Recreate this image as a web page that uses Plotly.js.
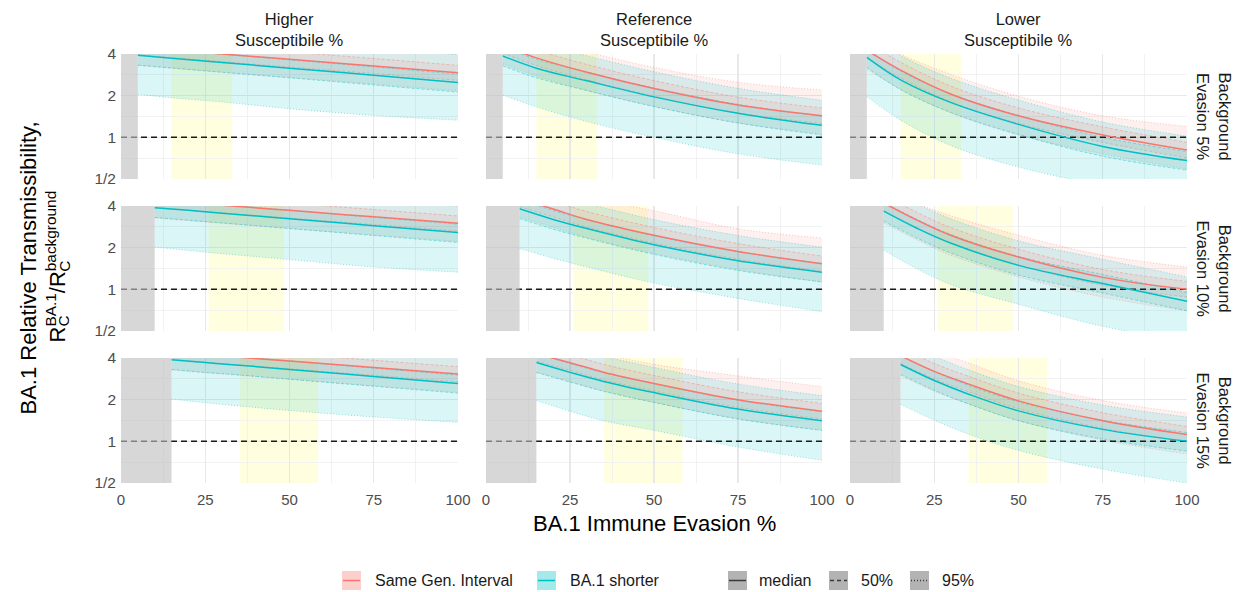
<!DOCTYPE html>
<html><head><meta charset="utf-8">
<script src="https://cdn.plot.ly/plotly-3.0.1.min.js"></script>
<style>html,body{margin:0;padding:0;background:#fff}#chart{width:1241px;height:592px}</style>
</head><body><div id="chart"></div>
<script>
// ---------- categories / labels ----------
const colLabels = ['Higher<br>Susceptibile %', 'Reference<br>Susceptibile %', 'Lower<br>Susceptibile %'];
const rowLabels = ['Background<br>Evasion 5%', 'Background<br>Evasion 10%', 'Background<br>Evasion 15%'];
const seriesLabels = ['Same Gen. Interval', 'BA.1 shorter'];
const lineTypeLabels = ['median', '50%', '95%'];
const bgEvasion = [5, 10, 15];
const xTickVals = [0, 25, 50, 75, 100];
const yTickVals = [0.5, 1, 2, 4];
const yTickText = ['1/2', '1', '2', '4'];
const xTitle = 'BA.1 Immune Evasion %';
const yTitle1 = 'BA.1 Relative Transmissibility,';
// second title line: R with stacked sub "C" and sup, built from overlaid text pieces
const HID = "<span style='color:rgba(0,0,0,0)'>";
const yTitle2Sup = "R<sup>BA.1</sup>/R<sup>background</sup><sub>" + HID + "C</span></sub>";
const yTitle2Sub1 = HID + "R</span><sub>C</sub><sup>" + HID + "B</span></sup>";
const yTitle2Sub2 = HID + "R</span><sup>" + HID + "BA.1</span></sup>" + HID + "/R</span><sub>C</sub>";
// yellow band (per background evasion row)
const bandLo = [15, 26, 35.2];
const bandHi = [33, 48.3, 58.5];

// ---------- x grids per row ----------
const x_bg5 = [5, 15, 30, 50, 75, 100];
const x_bg10 = [10, 20, 30, 50, 75, 100];
const x_bg15 = [15, 25, 35, 50, 75, 100];

// ---------- Higher susceptible, bg 5% ----------
const hi5_short_med  = [3.91, 3.73, 3.47, 3.16, 2.81, 2.49];
const hi5_short_lo50 = [3.32, 3.17, 2.95, 2.69, 2.39, 2.12];
const hi5_short_hi50 = [4.50, 4.29, 3.99, 3.63, 3.23, 2.86];
const hi5_short_lo95 = [2.05, 1.93, 1.80, 1.61, 1.44, 1.33];
const hi5_short_hi95 = [6.20, 5.90, 5.50, 5.00, 4.45, 3.96];
const hi5_same_med   = [4.47, 4.27, 4.00, 3.66, 3.28, 2.93];
const hi5_same_lo50  = [3.93, 3.76, 3.52, 3.22, 2.89, 2.58];
const hi5_same_hi50  = [5.05, 4.83, 4.52, 4.14, 3.71, 3.31];
const hi5_same_lo95  = [3.31, 3.16, 2.96, 2.71, 2.43, 2.17];
const hi5_same_hi95  = [6.08, 5.81, 5.44, 4.98, 4.46, 3.98];
// ---------- Reference, bg 5% ----------
const ref5_short_med  = [3.87, 3.16, 2.56, 1.96, 1.49, 1.22];
const ref5_short_lo50 = [3.29, 2.69, 2.18, 1.67, 1.27, 1.04];
const ref5_short_hi50 = [4.49, 3.67, 2.97, 2.27, 1.73, 1.42];
const ref5_short_lo95 = [2.02, 1.66, 1.30, 1.00, 0.76, 0.63];
const ref5_short_hi95 = [5.88, 4.80, 3.89, 2.98, 2.26, 1.85];
const ref5_same_med   = [4.60, 3.75, 2.95, 2.25, 1.71, 1.43];
const ref5_same_lo50  = [4.05, 3.30, 2.60, 1.98, 1.50, 1.26];
const ref5_same_hi50  = [5.24, 4.28, 3.36, 2.57, 1.95, 1.63];
const ref5_same_lo95  = [3.40, 2.78, 2.18, 1.67, 1.27, 1.06];
const ref5_same_hi95  = [6.40, 5.25, 4.15, 3.20, 2.50, 2.20];
// ---------- Lower susceptible, bg 5% ----------
const lo5_short_med  = [3.78, 2.60, 1.78, 1.24, 0.86, 0.68];
const lo5_short_lo50 = [3.21, 2.21, 1.51, 1.05, 0.73, 0.58];
const lo5_short_hi50 = [4.38, 3.02, 2.06, 1.44, 1.00, 0.79];
const lo5_short_lo95 = [1.97, 1.33, 0.87, 0.61, 0.45, 0.36];
const lo5_short_hi95 = [5.67, 3.90, 2.67, 1.86, 1.29, 1.02];
const lo5_same_med   = [4.25, 3.06, 2.05, 1.43, 1.04, 0.81];
const lo5_same_lo50  = [3.74, 2.69, 1.80, 1.26, 0.92, 0.71];
const lo5_same_hi50  = [4.85, 3.49, 2.34, 1.63, 1.19, 0.92];
const lo5_same_lo95  = [3.10, 2.23, 1.50, 1.04, 0.76, 0.59];
const lo5_same_hi95  = [5.60, 4.00, 2.85, 1.98, 1.43, 1.20];

// ---------- Higher susceptible, bg 10% ----------
const hi10_short_med  = [3.89, 3.72, 3.55, 3.24, 2.88, 2.57];
const hi10_short_lo50 = [3.31, 3.16, 3.02, 2.75, 2.45, 2.18];
const hi10_short_hi50 = [4.47, 4.28, 4.08, 3.73, 3.31, 2.96];
const hi10_short_lo95 = [2.02, 1.91, 1.81, 1.64, 1.45, 1.33];
const hi10_short_hi95 = [6.00, 5.77, 5.50, 5.00, 4.46, 3.98];
const hi10_same_med   = [4.42, 4.23, 4.05, 3.72, 3.34, 3.00];
const hi10_same_lo50  = [3.89, 3.72, 3.56, 3.27, 2.94, 2.64];
const hi10_same_hi50  = [5.00, 4.78, 4.58, 4.20, 3.77, 3.39];
const hi10_same_lo95  = [3.27, 3.13, 3.00, 2.75, 2.47, 2.22];
const hi10_same_hi95  = [6.40, 6.13, 5.87, 5.39, 4.84, 4.35];
// ---------- Reference, bg 10% ----------
const ref10_short_med  = [3.82, 3.20, 2.75, 2.10, 1.61, 1.33];
const ref10_short_lo50 = [3.25, 2.72, 2.34, 1.79, 1.37, 1.13];
const ref10_short_hi50 = [4.43, 3.71, 3.19, 2.44, 1.87, 1.54];
const ref10_short_lo95 = [1.97, 1.68, 1.45, 1.11, 0.86, 0.69];
const ref10_short_hi95 = [5.80, 4.86, 4.18, 3.19, 2.45, 2.02];
const ref10_same_med   = [4.50, 3.80, 3.20, 2.46, 1.88, 1.53];
const ref10_same_lo50  = [3.96, 3.34, 2.82, 2.16, 1.65, 1.35];
const ref10_same_hi50  = [5.13, 4.33, 3.65, 2.80, 2.14, 1.74];
const ref10_same_lo95  = [3.33, 2.81, 2.37, 1.82, 1.39, 1.13];
const ref10_same_hi95  = [6.30, 5.40, 4.60, 3.70, 2.74, 2.35];
// ---------- Lower susceptible, bg 10% ----------
const lo10_short_med  = [3.67, 2.75, 2.15, 1.49, 1.10, 0.82];
const lo10_short_lo50 = [3.12, 2.34, 1.83, 1.27, 0.94, 0.70];
const lo10_short_hi50 = [4.26, 3.19, 2.49, 1.73, 1.28, 0.95];
const lo10_short_lo95 = [1.92, 1.40, 1.08, 0.78, 0.54, 0.42];
const lo10_short_hi95 = [5.50, 4.13, 3.23, 2.24, 1.65, 1.23];
const lo10_same_med   = [4.20, 3.15, 2.45, 1.71, 1.22, 1.00];
const lo10_same_lo50  = [3.70, 2.77, 2.16, 1.50, 1.07, 0.88];
const lo10_same_hi50  = [4.79, 3.59, 2.79, 1.95, 1.39, 1.14];
const lo10_same_lo95  = [3.02, 2.27, 1.76, 1.23, 0.88, 0.70];
const lo10_same_hi95  = [5.60, 4.20, 3.40, 2.46, 1.76, 1.45];

// ---------- Higher susceptible, bg 15% ----------
const hi15_short_med  = [3.89, 3.71, 3.55, 3.31, 2.94, 2.62];
const hi15_short_lo50 = [3.31, 3.15, 3.02, 2.81, 2.50, 2.23];
const hi15_short_hi50 = [4.47, 4.27, 4.08, 3.81, 3.38, 3.01];
const hi15_short_lo95 = [2.02, 1.90, 1.80, 1.67, 1.50, 1.37];
const hi15_short_hi95 = [6.03, 5.75, 5.50, 5.13, 4.56, 4.06];
const hi15_same_med   = [4.42, 4.23, 4.05, 3.80, 3.41, 3.06];
const hi15_same_lo50  = [3.89, 3.72, 3.56, 3.34, 3.00, 2.69];
const hi15_same_hi50  = [4.99, 4.78, 4.58, 4.29, 3.85, 3.46];
const hi15_same_lo95  = [3.27, 3.13, 3.00, 2.81, 2.52, 2.26];
const hi15_same_hi95  = [6.41, 6.13, 5.87, 5.51, 4.94, 4.44];
// ---------- Reference, bg 15% ----------
const ref15_short_med  = [3.71, 3.15, 2.71, 2.25, 1.71, 1.41];
const ref15_short_lo50 = [3.15, 2.68, 2.30, 1.91, 1.45, 1.20];
const ref15_short_hi50 = [4.30, 3.65, 3.14, 2.61, 1.98, 1.64];
const ref15_short_lo95 = [1.97, 1.65, 1.41, 1.20, 0.91, 0.73];
const ref15_short_hi95 = [5.64, 4.79, 4.12, 3.42, 2.60, 2.14];
const ref15_same_med   = [4.30, 3.70, 3.16, 2.62, 2.00, 1.65];
const ref15_same_lo50  = [3.78, 3.26, 2.78, 2.31, 1.76, 1.45];
const ref15_same_hi50  = [4.90, 4.22, 3.60, 2.99, 2.28, 1.88];
const ref15_same_lo95  = [3.14, 2.70, 2.31, 1.91, 1.46, 1.20];
const ref15_same_hi95  = [6.00, 5.00, 4.30, 3.60, 2.97, 2.48];
// ---------- Lower susceptible, bg 15% ----------
const lo15_short_med  = [3.59, 2.75, 2.20, 1.66, 1.22, 1.00];
const lo15_short_lo50 = [3.05, 2.34, 1.87, 1.41, 1.04, 0.85];
const lo15_short_hi50 = [4.16, 3.19, 2.55, 1.93, 1.42, 1.16];
const lo15_short_lo95 = [1.85, 1.42, 1.13, 0.86, 0.63, 0.50];
const lo15_short_hi95 = [5.39, 4.13, 3.30, 2.49, 1.83, 1.50];
const lo15_same_med   = [4.15, 3.20, 2.60, 1.96, 1.41, 1.12];
const lo15_same_lo50  = [3.65, 2.82, 2.29, 1.72, 1.24, 0.99];
const lo15_same_hi50  = [4.73, 3.65, 2.96, 2.23, 1.61, 1.28];
const lo15_same_lo95  = [2.99, 2.30, 1.87, 1.41, 1.02, 0.81];
const lo15_same_hi95  = [5.60, 4.50, 3.70, 2.74, 1.97, 1.60];

// ---------- assemble panels (row-major) ----------
const panels = [
  {x: x_bg5,  same: [hi5_same_med, hi5_same_lo50, hi5_same_hi50, hi5_same_lo95, hi5_same_hi95],
              short:[hi5_short_med, hi5_short_lo50, hi5_short_hi50, hi5_short_lo95, hi5_short_hi95]},
  {x: x_bg5,  same: [ref5_same_med, ref5_same_lo50, ref5_same_hi50, ref5_same_lo95, ref5_same_hi95],
              short:[ref5_short_med, ref5_short_lo50, ref5_short_hi50, ref5_short_lo95, ref5_short_hi95]},
  {x: x_bg5,  same: [lo5_same_med, lo5_same_lo50, lo5_same_hi50, lo5_same_lo95, lo5_same_hi95],
              short:[lo5_short_med, lo5_short_lo50, lo5_short_hi50, lo5_short_lo95, lo5_short_hi95]},
  {x: x_bg10, same: [hi10_same_med, hi10_same_lo50, hi10_same_hi50, hi10_same_lo95, hi10_same_hi95],
              short:[hi10_short_med, hi10_short_lo50, hi10_short_hi50, hi10_short_lo95, hi10_short_hi95]},
  {x: x_bg10, same: [ref10_same_med, ref10_same_lo50, ref10_same_hi50, ref10_same_lo95, ref10_same_hi95],
              short:[ref10_short_med, ref10_short_lo50, ref10_short_hi50, ref10_short_lo95, ref10_short_hi95]},
  {x: x_bg10, same: [lo10_same_med, lo10_same_lo50, lo10_same_hi50, lo10_same_lo95, lo10_same_hi95],
              short:[lo10_short_med, lo10_short_lo50, lo10_short_hi50, lo10_short_lo95, lo10_short_hi95]},
  {x: x_bg15, same: [hi15_same_med, hi15_same_lo50, hi15_same_hi50, hi15_same_lo95, hi15_same_hi95],
              short:[hi15_short_med, hi15_short_lo50, hi15_short_hi50, hi15_short_lo95, hi15_short_hi95]},
  {x: x_bg15, same: [ref15_same_med, ref15_same_lo50, ref15_same_hi50, ref15_same_lo95, ref15_same_hi95],
              short:[ref15_short_med, ref15_short_lo50, ref15_short_hi50, ref15_short_lo95, ref15_short_hi95]},
  {x: x_bg15, same: [lo15_same_med, lo15_same_lo50, lo15_same_hi50, lo15_same_lo95, lo15_same_hi95],
              short:[lo15_short_med, lo15_short_lo50, lo15_short_hi50, lo15_short_lo95, lo15_short_hi95]}
];

// ---------- styling ----------
const W = 1241, H = 592;
const RED = [248, 118, 109], CYAN = [0, 191, 196];
const rgba = (c, a) => `rgba(${c[0]},${c[1]},${c[2]},${a})`;
const FONT = 'Liberation Sans, Arial, Helvetica, sans-serif';
const colPx = [[121, 458], [486, 822], [850, 1187]];
const rowPx = [[54, 179], [206, 331], [358, 483]];

const traces = [];
const layout = {
  width: W, height: H, margin: {l: 0, r: 0, t: 0, b: 0},
  paper_bgcolor: '#ffffff', plot_bgcolor: '#ffffff', showlegend: false,
  font: {family: FONT, color: '#4d4d4d'},
  shapes: [], annotations: []
};

function band(xa, ya, x, lo, hi, col, fillA, dash) {
  const ln = {color: rgba(col, 0.6), width: 0.7, dash: dash, shape: 'spline'};
  traces.push({x: x, y: lo, xaxis: xa, yaxis: ya, mode: 'lines', line: ln, hoverinfo: 'skip'});
  traces.push({x: x, y: hi, xaxis: xa, yaxis: ya, mode: 'lines', line: ln, fill: 'tonexty',
               fillcolor: rgba(col, fillA), hoverinfo: 'skip'});
}

panels.forEach((p, i) => {
  const r = Math.floor(i / 3), c = i % 3;
  const s = i === 0 ? '' : String(i + 1);
  const xa = 'x' + s, ya = 'y' + s;
  layout['xaxis' + s] = {
    domain: [colPx[c][0] / W, colPx[c][1] / W], anchor: ya, range: [0, 100],
    tickmode: 'array', tickvals: xTickVals, showticklabels: r === 2, ticks: '', ticklabelstandoff: 6,
    showgrid: true, gridcolor: '#e8e8e8', gridwidth: 1.3, zeroline: false, showline: false,
    minor: {tickmode: 'array', tickvals: [12.5, 37.5, 62.5, 87.5], showgrid: true, gridcolor: '#f1f1f1', gridwidth: 0.9},
    tickfont: {family: FONT, size: 15, color: '#4d4d4d'}, fixedrange: true
  };
  layout['yaxis' + s] = {
    domain: [1 - rowPx[r][1] / H, 1 - rowPx[r][0] / H], anchor: xa, type: 'log',
    range: [Math.log10(0.5), Math.log10(4)],
    tickmode: 'array', tickvals: yTickVals, ticktext: yTickText, showticklabels: c === 0, ticks: '', ticklabelstandoff: 4,
    showgrid: true, gridcolor: '#e8e8e8', gridwidth: 1.3, zeroline: false, showline: false,
    minor: {tickmode: 'array', tickvals: [0.7071, 1.4142, 2.8284], showgrid: true, gridcolor: '#f1f1f1', gridwidth: 0.9},
    tickfont: {family: FONT, size: 15.5, color: '#4d4d4d'}, fixedrange: true
  };
  // ribbons
  band(xa, ya, p.x, p.same[3], p.same[4], RED, 0.11, '1px,2px');
  band(xa, ya, p.x, p.short[3], p.short[4], CYAN, 0.14, '1px,2px');
  band(xa, ya, p.x, p.same[1], p.same[2], RED, 0.11, '3px,2px');
  band(xa, ya, p.x, p.short[1], p.short[2], CYAN, 0.13, '3px,2px');
  // reference line at 1
  traces.push({x: [0, 100], y: [1, 1], xaxis: xa, yaxis: ya, mode: 'lines',
               line: {color: '#1a1a1a', width: 1.5, dash: '6px,4px'}, hoverinfo: 'skip'});
  // medians
  traces.push({x: p.x, y: p.same[0], xaxis: xa, yaxis: ya, mode: 'lines',
               line: {color: rgba(RED, 1), width: 1.5, shape: 'spline'}, hoverinfo: 'skip'});
  traces.push({x: p.x, y: p.short[0], xaxis: xa, yaxis: ya, mode: 'lines',
               line: {color: rgba(CYAN, 1), width: 1.5, shape: 'spline'}, hoverinfo: 'skip'});
  // plausible band (yellow, under the ribbons) and background evasion (grey, on top)
  const yd = ya + ' domain';
  layout.shapes.push({type: 'rect', xref: xa, yref: yd, x0: bandLo[r], x1: bandHi[r], y0: 0, y1: 1,
                      fillcolor: 'rgba(255,252,90,0.2)', line: {width: 0}, layer: 'below'});
  layout.shapes.push({type: 'rect', xref: xa, yref: yd, x0: 0, x1: bgEvasion[r], y0: 0, y1: 1,
                      fillcolor: 'rgba(190,190,190,0.62)', line: {width: 0}, layer: 'above'});
});

// strip labels
colPx.forEach((cp, c) => {
  layout.annotations.push({xref: 'paper', yref: 'paper', x: (cp[0] + cp[1]) / 2 / W, y: 1 - 29 / H,
    text: colLabels[c], showarrow: false, xanchor: 'center', yanchor: 'middle', align: 'center',
    font: {family: FONT, size: 16.5, color: '#1a1a1a'}});
});
rowPx.forEach((rp, r) => {
  layout.annotations.push({xref: 'paper', yref: 'paper', x: 1214 / W, y: 1 - (rp[0] + rp[1]) / 2 / H,
    text: rowLabels[r], showarrow: false, xanchor: 'center', yanchor: 'middle', align: 'center', textangle: 90,
    font: {family: FONT, size: 16.5, color: '#1a1a1a'}});
});
// axis titles
layout.annotations.push({xref: 'paper', yref: 'paper', x: 654 / W, y: 1 - 523 / H, text: xTitle,
  showarrow: false, xanchor: 'center', yanchor: 'middle', font: {family: FONT, size: 22, color: '#000'}});
layout.annotations.push({xref: 'paper', yref: 'paper', x: 28 / W, y: 1 - 268.5 / H, text: yTitle1,
  showarrow: false, xanchor: 'center', yanchor: 'middle', textangle: -90, font: {family: FONT, size: 22, color: '#000'}});
[yTitle2Sup, yTitle2Sub1, yTitle2Sub2].forEach(t => {
  layout.annotations.push({xref: 'paper', yref: 'paper', x: 57 / W, y: 1 - 345 / H, text: t,
    showarrow: false, xanchor: 'center', yanchor: 'bottom', textangle: -90, font: {family: FONT, size: 22, color: '#000'}});
});

// legend (drawn manually in paper coordinates)
const keyX = [342, 537, 728, 829, 910];
const keyTextX = [373, 568, 757, 859, 940];
const keyTexts = [seriesLabels[0], seriesLabels[1], lineTypeLabels[0], lineTypeLabels[1], lineTypeLabels[2]];
const keyFill = [rgba(RED, 0.35), rgba(CYAN, 0.35), '#b3b3b3', '#b3b3b3', '#b3b3b3'];
const keyLine = [rgba(RED, 1), rgba(CYAN, 1), '#3a3a3a', '#3a3a3a', '#3a3a3a'];
const keyDash = ['solid', 'solid', 'solid', '4px,3px', '1px,2px'];
const kTop = 571, kBot = 590, kMid = 580.5;
keyX.forEach((kx, k) => {
  layout.shapes.push({type: 'rect', xref: 'paper', yref: 'paper', x0: kx / W, x1: (kx + 19) / W,
    y0: 1 - kBot / H, y1: 1 - kTop / H, fillcolor: keyFill[k], line: {width: 0}});
  layout.shapes.push({type: 'line', xref: 'paper', yref: 'paper', x0: (kx + 1) / W, x1: (kx + 18) / W,
    y0: 1 - kMid / H, y1: 1 - kMid / H, line: {color: keyLine[k], width: 1.5, dash: keyDash[k]}});
  layout.annotations.push({xref: 'paper', yref: 'paper', x: keyTextX[k] / W, y: 1 - kMid / H,
    text: keyTexts[k], showarrow: false, xanchor: 'left', yanchor: 'middle',
    font: {family: FONT, size: 16, color: '#1a1a1a'}});
});

Plotly.newPlot('chart', traces, layout, {staticPlot: true, displayModeBar: false});
</script></body></html>
